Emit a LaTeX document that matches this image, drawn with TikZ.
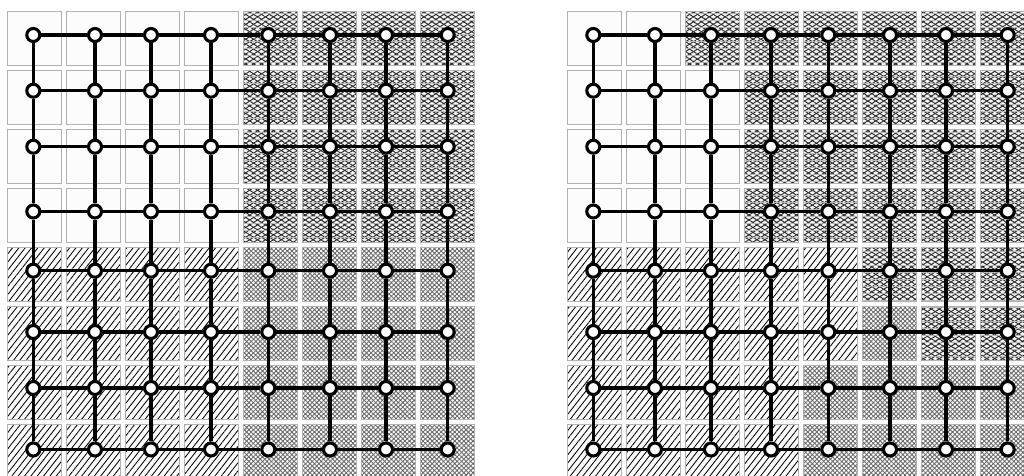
\documentclass[tikz,border=0pt]{standalone}
\usetikzlibrary{patterns.meta}
\pgfdeclarelayer{cells}
\pgfdeclarelayer{links}
\pgfsetlayers{cells,links,main}
\begin{document}
\begin{tikzpicture}[x=1pt,y=1pt,
  cellW/.style={draw=gray!60, line width=1.2pt, fill=gray!2},
  cellH/.style={preaction={fill=white}, preaction={pattern={Lines[angle=52,distance=5pt,line width=0.85pt]}, pattern color=black}, draw=gray!60, line width=1.2pt},
  cellB/.style={preaction={fill=white}, preaction={pattern={Hatch[angle=45,distance=3.2pt,line width=0.9pt]}, pattern color=gray!85!black}, draw=gray!60, line width=1.2pt},
  cellA/.style={preaction={fill=gray!8}, preaction={pattern={Lines[angle=32,distance=4.2pt,line width=0.95pt]}, pattern color=gray!35!black}, preaction={pattern={Lines[angle=-32,distance=4.2pt,line width=0.95pt]}, pattern color=gray!35!black}, preaction={pattern={Lines[angle=0,distance=7pt,line width=0.9pt]}, pattern color=gray!55}, draw=gray!60, line width=1.2pt},
  vtx/.style={circle, draw=black, line width=3.1pt, fill=white, minimum size=13pt, inner sep=0pt},
  link/.style={line width=3.2pt, black}
]
\useasboundingbox (0,0) rectangle (1024,475);
\clip (0,0) rectangle (1024,475);
% cells
\begin{pgfonlayer}{cells}
\foreach \row [count=\j from 0] in {{W,W,W,W,A,A,A,A},{W,W,W,W,A,A,A,A},{W,W,W,W,A,A,A,A},{W,W,W,W,A,A,A,A},{H,H,H,H,B,B,B,B},{H,H,H,H,B,B,B,B},{H,H,H,H,B,B,B,B},{H,H,H,H,B,B,B,B}}{
  \foreach \t [count=\i from 0] in \row {
    \path[cell\t] ({7.3+59*\i},{409.3-59*\j}) rectangle ++(54,54.4);
  }
}
\foreach \row [count=\j from 0] in {{W,W,A,A,A,A,A,A},{W,W,W,A,A,A,A,A},{W,W,W,A,A,A,A,A},{W,W,W,A,A,A,A,A},{H,H,H,H,H,A,A,A},{H,H,H,H,H,B,A,A},{H,H,H,H,B,B,B,B},{H,H,H,H,B,B,B,B}}{
  \foreach \t [count=\i from 0] in \row {
    \path[cell\t] ({567.3+59*\i},{409.3-59*\j}) rectangle ++(54,54.4);
  }
}
\end{pgfonlayer}
% vertices
\foreach \x [count=\i from 0] in {33.3,95,151,211,268.3,330,386,447.7}{
  \foreach \y [count=\j from 0] in {440,384.3,328.3,263.5,204.3,143,87,25.5}{
    \node[vtx] (L-\i-\j) at (\x,\y) {};
    \node[vtx] (R-\i-\j) at ({\x+560},\y) {};
  }
}
% links
\begin{pgfonlayer}{links}
\foreach \a [count=\b] in {0,...,6}{
  \foreach \k in {0,...,7}{
    \draw[link] (L-\a-\k) -- (L-\b-\k);
    \draw[link] (L-\k-\a) -- (L-\k-\b);
    \draw[link] (R-\a-\k) -- (R-\b-\k);
    \draw[link] (R-\k-\a) -- (R-\k-\b);
  }
}
\end{pgfonlayer}
\end{tikzpicture}
\end{document}
